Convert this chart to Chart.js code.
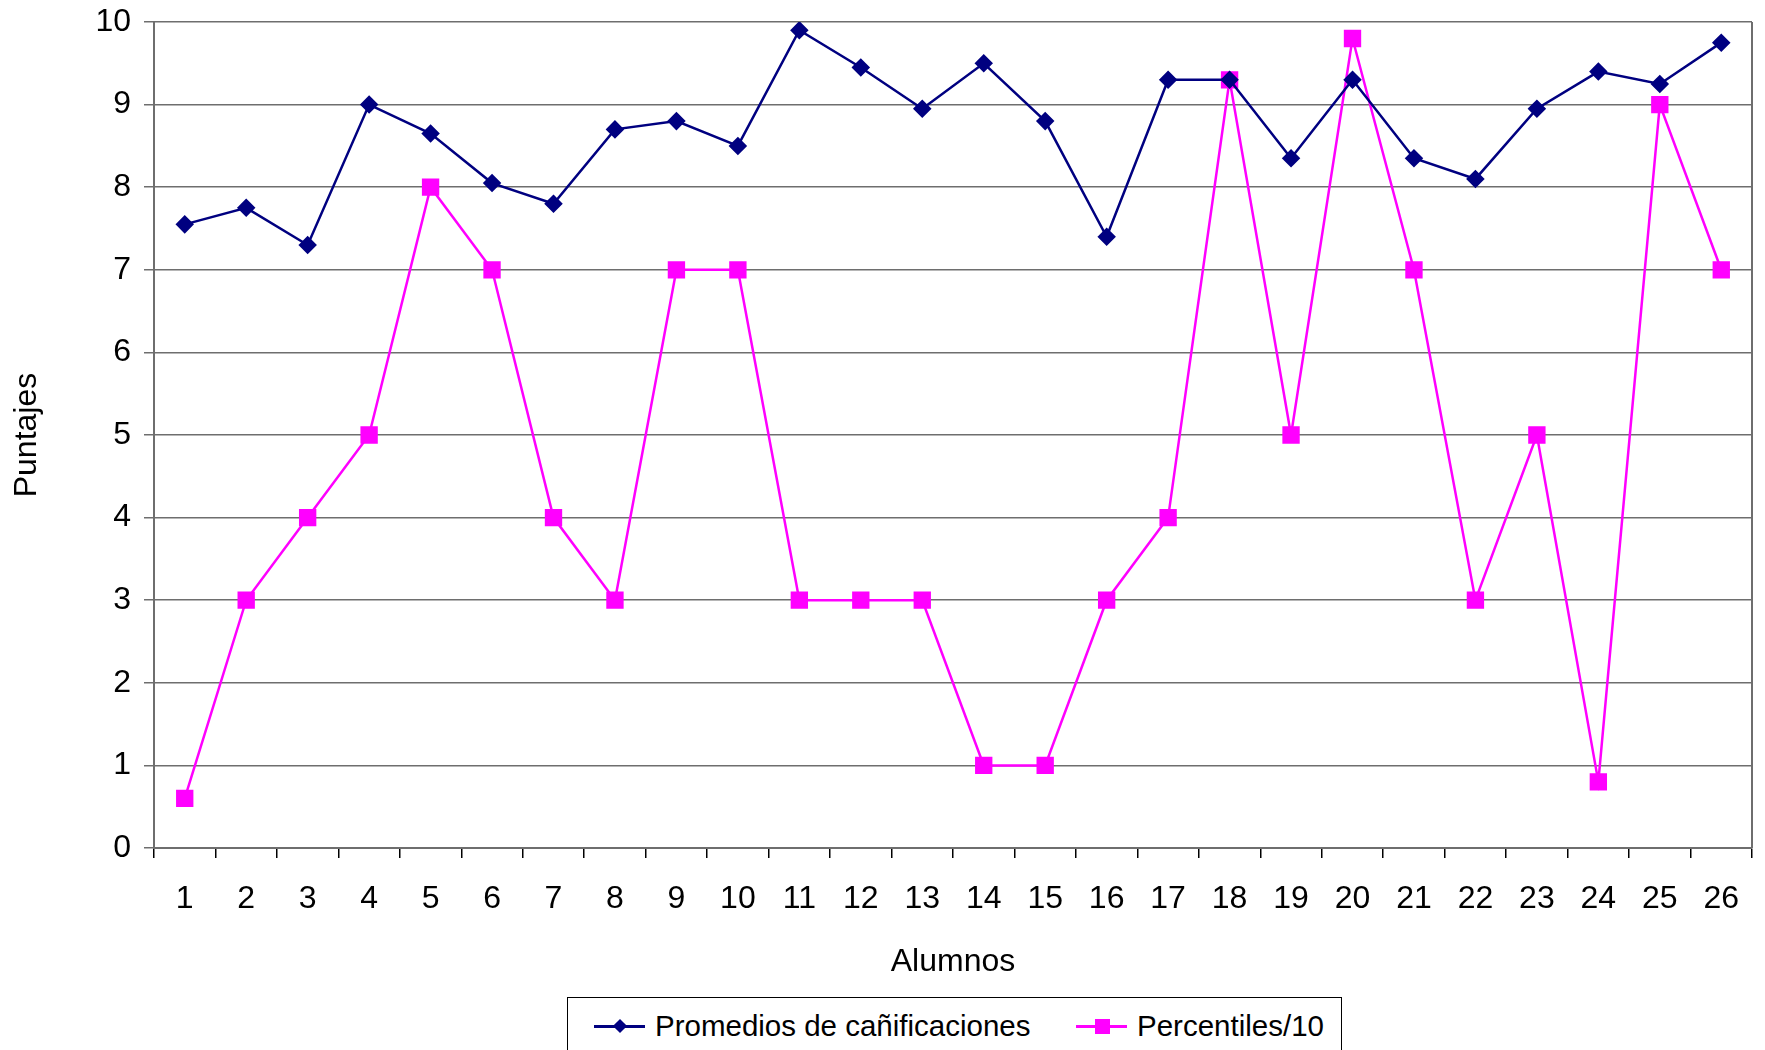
<!DOCTYPE html>
<html>
<head>
<meta charset="utf-8">
<script src="https://cdn.jsdelivr.net/npm/chart.js@4.4.0/dist/chart.umd.min.js"></script>
<style>
  body { margin: 0; background: #fff; overflow: hidden; }
  #wrap { position: relative; width: 1765px; height: 1050px; font-family: "Liberation Sans", Arial, sans-serif; }
  #legend { position: absolute; left: 567px; top: 997px; width: 775px; height: 70px; border: 1px solid #000; background: #fff; box-sizing: border-box; }
  .item { position: absolute; top: 0; height: 56px; display: flex; align-items: center; font-size: 29.5px; color: #000; }
  .sym { position: relative; width: 51px; height: 20px; margin-right: 10px; }
  .sym .ln { position: absolute; left: 0; right: 0; top: 9px; height: 2.5px; }
  .sym .mk { position: absolute; left: 50%; top: 50%; }
</style>
</head>
<body>
<div id="wrap">
  <canvas id="chart" width="1765" height="1050"></canvas>
  <div id="legend">
    <div class="item" style="left:26px">
      <span class="sym"><span class="ln" style="background:#000080"></span><span class="mk" style="width:10px;height:10px;margin:-5px 0 0 -5px;background:#000080;transform:rotate(45deg)"></span></span>
      <span>Promedios de cañificaciones</span>
    </div>
    <div class="item" style="left:508px">
      <span class="sym"><span class="ln" style="background:#ff00ff"></span><span class="mk" style="width:15px;height:15px;margin:-7px 0 0 -7px;background:#ff00ff"></span></span>
      <span>Percentiles/10</span>
    </div>
  </div>
</div>
<script>
// Chart data
const alumnos = ['1','2','3','4','5','6','7','8','9','10','11','12','13','14','15','16','17','18','19','20','21','22','23','24','25','26'];
const promedios = [7.55, 7.75, 7.3, 9.0, 8.65, 8.05, 7.8, 8.7, 8.8, 8.5, 9.9, 9.45, 8.95, 9.5, 8.8, 7.4, 9.3, 9.3, 8.35, 9.3, 8.35, 8.1, 8.95, 9.4, 9.25, 9.75];
const percentiles = [0.6, 3, 4, 5, 8, 7, 4, 3, 7, 7, 3, 3, 3, 1, 1, 3, 4, 9.3, 5, 9.8, 7, 3, 5, 0.8, 9, 7];
const yTicks = [0, 1, 2, 3, 4, 5, 6, 7, 8, 9, 10];

const font = { family: '"Liberation Sans", Arial, sans-serif', size: 32 };
const gridColor = '#6e6e6e';

// keep the plot area where the reference has it
function noEdgePadding(scale) {
  scale.paddingTop = 0;
  scale.paddingBottom = 0;
  scale.paddingLeft = 0;
  scale.paddingRight = 0;
}

// right-hand frame line of the plot area
const rightFrame = {
  id: 'rightFrame',
  beforeDatasetsDraw(chart) {
    const { ctx, chartArea } = chart;
    ctx.save();
    ctx.strokeStyle = gridColor;
    ctx.lineWidth = 2;
    ctx.beginPath();
    ctx.moveTo(chartArea.right, chartArea.top);
    ctx.lineTo(chartArea.right, chartArea.bottom);
    ctx.stroke();
    ctx.restore();
  }
};

new Chart(document.getElementById('chart').getContext('2d'), {
  type: 'line',
  data: {
    labels: alumnos,
    datasets: [{
      label: 'Promedios de cañificaciones',
      data: promedios,
      borderColor: '#000080',
      backgroundColor: '#000080',
      borderWidth: 2.5,
      pointStyle: 'rectRot',
      pointRadius: 7.5,
      pointHoverRadius: 7.5,
      tension: 0
    }, {
      label: 'Percentiles/10',
      data: percentiles,
      borderColor: '#ff00ff',
      backgroundColor: '#ff00ff',
      borderWidth: 2.5,
      pointStyle: 'rect',
      pointRadius: 10.5,
      pointHoverRadius: 10.5,
      tension: 0
    }]
  },
  options: {
    responsive: false,
    animation: false,
    layout: { padding: { top: 22, right: 4, left: 0, bottom: 0 } },
    plugins: { legend: { display: false }, tooltip: { enabled: false } },
    scales: {
      x: {
        offset: true,
        grid: { offset: true, drawOnChartArea: false, drawTicks: true, tickLength: 10, color: '#000', lineWidth: 1.5 },
        border: { color: gridColor, width: 2 },
        ticks: { color: '#000', font, padding: 22, maxRotation: 0, autoSkip: false },
        title: { display: true, text: 'Alumnos', color: '#000', font, padding: { top: 0, bottom: 68.5 } },
        afterFit: (scale) => { scale.height = 202; noEdgePadding(scale); }
      },
      y: {
        min: 0,
        max: 10,
        afterBuildTicks: (scale) => { scale.ticks = yTicks.map(v => ({ value: v })); },
        grid: { color: gridColor, lineWidth: 1.5, tickLength: 10 },
        border: { color: gridColor, width: 2 },
        ticks: { color: '#000', font, padding: 13 },
        title: { display: true, text: 'Puntajes', color: '#000', font, padding: { top: 8, bottom: 0 } },
        afterFit: (scale) => { scale.width = 154; noEdgePadding(scale); }
      }
    }
  },
  plugins: [rightFrame]
});
</script>
</body>
</html>
